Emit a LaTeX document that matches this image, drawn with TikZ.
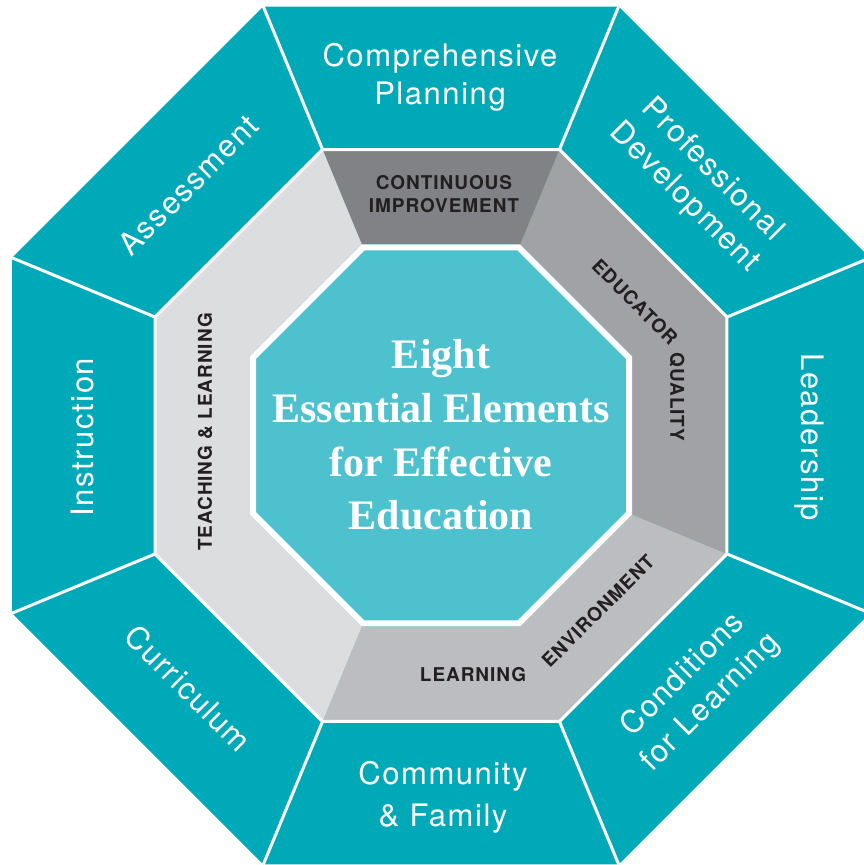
\documentclass[tikz,border=0pt]{standalone}
\usepackage{fontspec}
\setmainfont{TeX Gyre Heros}
\newfontfamily\outerfont[LetterSpace=5]{TeX Gyre Heros}
\newfontfamily\ringfont[LetterSpace=5]{TeX Gyre Heros}
\newfontfamily\serifbold{Liberation Serif}
\usetikzlibrary{calc}
\definecolor{outerteal}{RGB}{0,169,183}
\definecolor{innerteal}{RGB}{77,193,205}
\definecolor{cigray}{RGB}{128,130,133}
\definecolor{eqgray}{RGB}{161,162,166}
\definecolor{legray}{RGB}{188,189,192}
\definecolor{tlgray}{RGB}{220,221,223}
\definecolor{labeldark}{RGB}{35,31,32}
\begin{document}
\begin{tikzpicture}[x=1pt,y=1pt,
  outerlabel/.style={text=white,font=\outerfont\fontsize{31}{39}\selectfont,align=center,inner sep=0pt},
  ringlabel/.style={text=labeldark,font=\ringfont\bfseries\fontsize{19}{23}\selectfont,inner sep=0pt},
  centerlabel/.style={text=white,font=\serifbold\bfseries\fontsize{42}{54}\selectfont,inner sep=0pt,anchor=base},
  sepline/.style={white,line width=3pt}]
\useasboundingbox (0,0) rectangle (864,865);
\clip (0,0) rectangle (864,865);
\coordinate (C) at (441,429.5);
\foreach \a [count=\i] in {22.5,67.5,...,337.5} {
  \coordinate (O\i) at ($(C)+(\a:464.35)$);
  \coordinate (M\i) at ($(C)+(\a:309.56)$);
  \coordinate (I\i) at ($(C)+(\a:206.74)$);
  \coordinate (T\i) at ($(C)+(\a:203.5)$);
}
% outer ring
\fill[outerteal] (O1)--(O2)--(O3)--(O4)--(O5)--(O6)--(O7)--(O8)--cycle;
% gray ring segments
\fill[cigray] (M2)--(M3)--(I3)--(I2)--cycle;
\fill[eqgray] (M2)--(M1)--(M8)--(I8)--(I1)--(I2)--cycle;
\fill[legray] (M8)--(M7)--(M6)--(I6)--(I7)--(I8)--cycle;
\fill[tlgray] (M6)--(M5)--(M4)--(M3)--(I3)--(I4)--(I5)--(I6)--cycle;
% separators
\foreach \i in {1,...,8} { \draw[sepline] (M\i)--(O\i); }
\draw[sepline] (M1)--(M2)--(M3)--(M4)--(M5)--(M6)--(M7)--(M8)--cycle;
% inner octagon
\filldraw[fill=innerteal,draw=white,line width=6pt] (T1)--(T2)--(T3)--(T4)--(T5)--(T6)--(T7)--(T8)--cycle;
% outer labels
\node[outerlabel,anchor=base] (cp1) at (440,798) {Comprehensive};
\node[outerlabel,anchor=base] (cp2) at (440,760) {Planning};
\node[outerlabel,anchor=base] (cf1) at (443,80) {Community};
\node[outerlabel,anchor=base] (cf2) at (443,38) {\& Family};
\node[outerlabel,rotate=45] (as) at (188,680) {Assessment};
\node[outerlabel,rotate=90] (in) at (82,428) {Instruction};
\node[outerlabel,rotate=-90] (ld) at (809,428) {Leadership};
\node[outerlabel,rotate=-45] (cu) at (188,177) {Curriculum};
\node[outerlabel,rotate=-45] (pd) at (698,681) {Professional\\Development};
\node[outerlabel,rotate=45] (cl) at (697,176) {Conditions\\for Learning};
% ring labels
\node[ringlabel,anchor=base] (ci1) at (444,675) {CONTINUOUS};
\node[ringlabel,anchor=base] (ci2) at (444,652) {IMPROVEMENT};
\node[ringlabel,rotate=90] (tl) at (205,433) {TEACHING \& LEARNING};
\node[ringlabel,rotate=-45] (eq1) at (635,563) {EDUCATOR};
\node[ringlabel,rotate=-90] (eq2) at (677,468) {QUALITY};
\node[ringlabel] (le1) at (473,190) {LEARNING};
\node[ringlabel,rotate=45] (le2) at (598,254) {ENVIRONMENT};
% center title
\node[centerlabel] (c1) at (441,496) {Eight};
\node[centerlabel] (c2) at (441,442) {Essential Elements};
\node[centerlabel] (c3) at (441,388) {for Effective};
\node[centerlabel] (c4) at (441,335) {Education};
\end{tikzpicture}
\end{document}
